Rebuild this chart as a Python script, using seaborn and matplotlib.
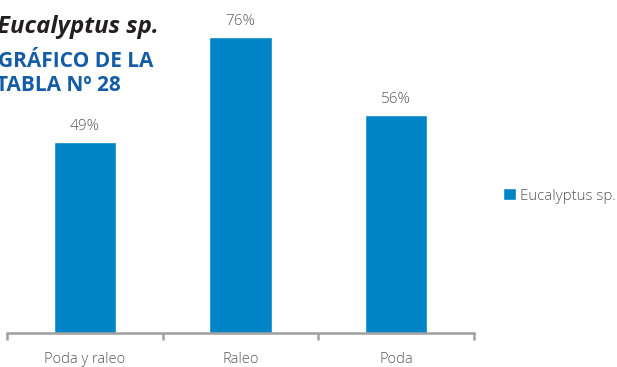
import matplotlib
matplotlib.use("Agg")
import matplotlib.pyplot as plt
import seaborn as sns
import pandas as pd
from matplotlib.ticker import FixedLocator

categories = ["Poda y raleo", "Raleo", "Poda"]
values = [49, 76, 56]
series_name = "Eucalyptus sp."

sns.set_style("white")
plt.rcParams['font.family'] = ['Open Sans', 'DejaVu Sans']

df = pd.DataFrame({"cat": categories, "val": values, "serie": [series_name] * len(categories)})

fig = plt.figure(figsize=(6.17, 3.67), dpi=100)
ax = fig.add_axes([7 / 617, 34 / 367, 467 / 617, 331 / 367])

bar_color = "#0084C8"
sns.barplot(data=df, x="cat", y="val", hue="serie", palette=[bar_color],
            width=0.4, ax=ax, legend=True, saturation=1)

ax.set_xlim(-0.5, 2.5)
ax.set_ylim(0, 85)
for c in ax.containers:
    ax.bar_label(c, labels=[f"{v}%" for v in values], padding=6,
                 fontsize=11, color="#595959", fontweight="light")

for s in ["top", "right", "left"]:
    ax.spines[s].set_visible(False)
ax.spines["bottom"].set_color("#a0a0a0")
ax.spines["bottom"].set_linewidth(1.8)
ax.set_yticks([])
ax.set_xlabel("")
ax.set_ylabel("")
ax.xaxis.set_minor_locator(FixedLocator([-0.5, 0.5, 1.5, 2.5]))
ax.tick_params(axis="x", which="major", length=0, pad=14, labelsize=10.5, labelcolor="#595959")
for lbl in ax.get_xticklabels():
    lbl.set_fontweight("light")
ax.tick_params(axis="x", which="minor", length=5, width=1.8, color="#a0a0a0", direction="out", bottom=True)

leg = ax.legend(loc="center left", bbox_to_anchor=(503 / 617, 1 - 196 / 367),
                bbox_transform=fig.transFigure, frameon=False, fontsize=10.8,
                borderpad=0, borderaxespad=0,
                handlelength=0.85, handleheight=0.85, handletextpad=0.25,
                labelcolor="#595959")
for t in leg.get_texts():
    t.set_fontweight("light")

fig.text(-3 / 617, 1 - 33 / 367, "Eucalyptus sp.", fontsize=17.3, fontweight="bold",
         fontstyle="italic", color="#231f20", va="baseline", ha="left")
fig.text(-2 / 617, 1 - 67 / 367, "GRÁFICO DE LA", fontsize=15, fontweight="bold",
         color="#155ca6", va="baseline", ha="left")
fig.text(-4 / 617, 1 - 91 / 367, "TABLA Nº 28", fontsize=15, fontweight="bold",
         color="#155ca6", va="baseline", ha="left")

fig.savefig("out.png", dpi=100)
